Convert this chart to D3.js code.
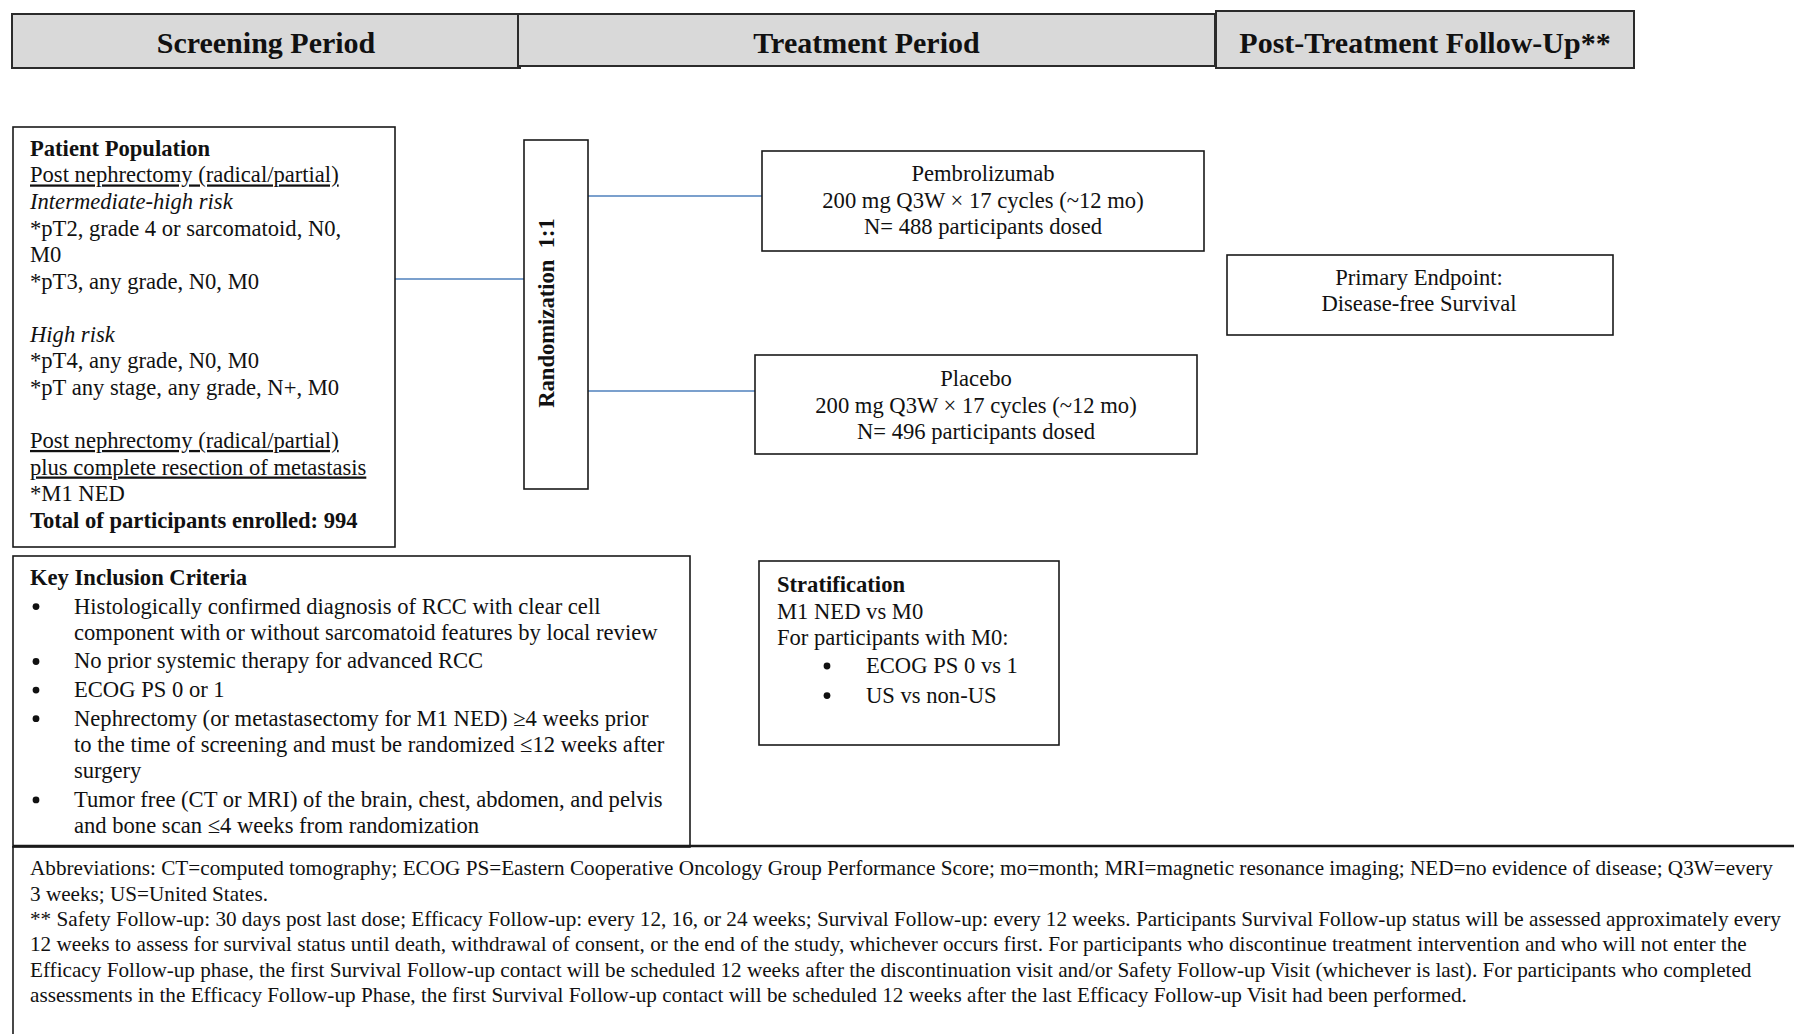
<!DOCTYPE html>
<html>
<head>
<meta charset="utf-8">
<script src="https://cdn.jsdelivr.net/npm/d3@7"></script>
<style>
  body { margin: 0; background: #fff; }
  text { font-family: "Liberation Serif", "Times New Roman", serif; fill: #111; }
</style>
</head>
<body>
<div id="main"></div>
<script>
// ---- content ----
var periods = ['Screening Period', 'Treatment Period', 'Post-Treatment Follow-Up**'];

var population_lines = [
  { t: 'Patient Population', s: 'b' },
  { t: 'Post nephrectomy (radical/partial)', s: 'u' },
  { t: 'Intermediate-high risk', s: 'i' },
  { t: '*pT2, grade 4 or sarcomatoid, N0,' },
  { t: 'M0' },
  { t: '*pT3, any grade, N0, M0' },
  { t: '' },
  { t: 'High risk', s: 'i' },
  { t: '*pT4, any grade, N0, M0' },
  { t: '*pT any stage, any grade, N+, M0' },
  { t: '' },
  { t: 'Post nephrectomy (radical/partial)', s: 'u' },
  { t: 'plus complete resection of metastasis', s: 'u' },
  { t: '*M1 NED' },
  { t: 'Total of participants enrolled: 994', s: 'b' }
];

var randomization_label = 'Randomization  1:1';

var arms = [
  ['Pembrolizumab', '200 mg Q3W \u00d7 17 cycles (~12 mo)', 'N= 488 participants dosed'],
  ['Placebo', '200 mg Q3W \u00d7 17 cycles (~12 mo)', 'N= 496 participants dosed']
];

var endpoint_lines = ['Primary Endpoint:', 'Disease-free Survival'];

var inclusion_title = 'Key Inclusion Criteria';
var inclusion_bullets = [
  ['Histologically confirmed diagnosis of RCC with clear cell', 'component with or without sarcomatoid features by local review'],
  ['No prior systemic therapy for advanced RCC'],
  ['ECOG PS 0 or 1'],
  ['Nephrectomy (or metastasectomy for M1 NED) \u22654 weeks prior', 'to the time of screening and must be randomized \u226412 weeks after', 'surgery'],
  ['Tumor free (CT or MRI) of the brain, chest, abdomen, and pelvis', 'and bone scan \u22644 weeks from randomization']
];

var strat_title = 'Stratification';
var strat_lines = ['M1 NED vs M0', 'For participants with M0:'];
var strat_bullets = ['ECOG PS 0 vs 1', 'US vs non-US'];

var footnote_lines = [
  'Abbreviations: CT=computed tomography; ECOG PS=Eastern Cooperative Oncology Group Performance Score; mo=month; MRI=magnetic resonance imaging; NED=no evidence of disease; Q3W=every',
  '3 weeks; US=United States.',
  '** Safety Follow-up: 30 days post last dose; Efficacy Follow-up: every 12, 16, or 24 weeks; Survival Follow-up: every 12 weeks. Participants Survival Follow-up status will be assessed approximately every',
  '12 weeks to assess for survival status until death, withdrawal of consent, or the end of the study, whichever occurs first. For participants who discontinue treatment intervention and who will not enter the',
  'Efficacy Follow-up phase, the first Survival Follow-up contact will be scheduled 12 weeks after the discontinuation visit and/or Safety Follow-up Visit (whichever is last). For participants who completed',
  'assessments in the Efficacy Follow-up Phase, the first Survival Follow-up contact will be scheduled 12 weeks after the last Efficacy Follow-up Visit had been performed.'
];

// ---- layout ----
var width = 1794, height = 1034;
var header_boxes = [
  { x0: 12, x1: 520, y0: 14, y1: 68 },
  { x0: 518, x1: 1215, y0: 14, y1: 66 },
  { x0: 1216, x1: 1634, y0: 11, y1: 68 }
];
var body_size = 22.6;
var blue = '#4f81bd';

var svg = d3.select('#main').append('svg')
  .attr('width', width)
  .attr('height', height);

function box(g, x0, y0, x1, y1, sw) {
  g.append('rect')
    .attr('x', x0).attr('y', y0)
    .attr('width', x1 - x0).attr('height', y1 - y0)
    .attr('fill', 'none')
    .attr('stroke', '#1a1a1a')
    .attr('stroke-width', sw || 1.6);
}

// header bars
var heads = svg.append('g');
heads.selectAll('rect')
  .data(periods)
  .enter()
  .append('rect')
  .attr('x', function (d, i) { return header_boxes[i].x0; })
  .attr('y', function (d, i) { return header_boxes[i].y0; })
  .attr('width', function (d, i) { return header_boxes[i].x1 - header_boxes[i].x0; })
  .attr('height', function (d, i) { return header_boxes[i].y1 - header_boxes[i].y0; })
  .attr('fill', '#d9d9d9')
  .attr('stroke', '#2b2b2b')
  .attr('stroke-width', 2);
heads.selectAll('text')
  .data(periods)
  .enter()
  .append('text')
  .attr('x', function (d, i) { return (header_boxes[i].x0 + header_boxes[i].x1) / 2; })
  .attr('y', 42)
  .attr('dy', '0.35em')
  .attr('text-anchor', 'middle')
  .attr('font-size', 30)
  .attr('font-weight', 'bold')
  .text(function (d) { return d; });

// connectors
var links = [
  { x1: 395, y1: 279, x2: 524, y2: 279 },
  { x1: 588, y1: 196, x2: 762, y2: 196 },
  { x1: 588, y1: 391, x2: 755, y2: 391 }
];
svg.selectAll('.link')
  .data(links)
  .enter()
  .append('line')
  .attr('class', 'link')
  .attr('x1', function (d) { return d.x1; })
  .attr('y1', function (d) { return d.y1; })
  .attr('x2', function (d) { return d.x2; })
  .attr('y2', function (d) { return d.y2; })
  .attr('stroke', blue)
  .attr('stroke-width', 1.6);

// patient population
var pop = svg.append('g');
box(pop, 13, 127, 395, 547);
pop.selectAll('text')
  .data(population_lines)
  .enter()
  .append('text')
  .attr('x', 30)
  .attr('y', function (d, i) { return 148 + i * 26.55; })
  .attr('dy', '0.35em')
  .attr('font-size', body_size)
  .attr('font-weight', function (d) { return d.s === 'b' ? 'bold' : null; })
  .attr('font-style', function (d) { return d.s === 'i' ? 'italic' : null; })
  .attr('text-decoration', function (d) { return d.s === 'u' ? 'underline' : null; })
  .text(function (d) { return d.t; });

// randomization
var rnd = svg.append('g');
box(rnd, 524, 140, 588, 489);
rnd.append('text')
  .attr('transform', 'translate(546,313) rotate(-90)')
  .attr('dy', '0.35em')
  .attr('text-anchor', 'middle')
  .attr('font-size', 22.6)
  .attr('font-weight', 'bold')
  .style('white-space', 'pre')
  .text(randomization_label);

// treatment arms
var arm_boxes = [
  { x0: 762, x1: 1204, y0: 151, y1: 251, y: 173 },
  { x0: 755, x1: 1197, y0: 355, y1: 454, y: 378 }
];
arms.forEach(function (lines, k) {
  var b = arm_boxes[k];
  var g = svg.append('g');
  box(g, b.x0, b.y0, b.x1, b.y1);
  g.selectAll('text')
    .data(lines)
    .enter()
    .append('text')
    .attr('x', (b.x0 + b.x1) / 2)
    .attr('y', function (d, i) { return b.y + i * 26.7; })
    .attr('dy', '0.35em')
    .attr('text-anchor', 'middle')
    .attr('font-size', body_size)
    .text(function (d) { return d; });
});

// primary endpoint
var ep = svg.append('g');
box(ep, 1227, 255, 1613, 335);
ep.selectAll('text')
  .data(endpoint_lines)
  .enter()
  .append('text')
  .attr('x', 1419)
  .attr('y', function (d, i) { return 277 + i * 26.5; })
  .attr('dy', '0.35em')
  .attr('text-anchor', 'middle')
  .attr('font-size', body_size)
  .text(function (d) { return d; });

// key inclusion criteria
var inc = svg.append('g');
box(inc, 13, 556, 690, 847);
inc.append('text')
  .attr('x', 30).attr('y', 577).attr('dy', '0.35em')
  .attr('font-size', body_size)
  .attr('font-weight', 'bold')
  .text(inclusion_title);
var inc_y = 577;
var inc_rows = [];
inclusion_bullets.forEach(function (b) {
  b.forEach(function (line, j) {
    inc_y += j === 0 ? 28.6 : 26.3;
    inc_rows.push({ t: line, y: inc_y, first: j === 0 });
  });
});
inc.selectAll('.ln')
  .data(inc_rows)
  .enter()
  .append('text')
  .attr('class', 'ln')
  .attr('x', 74)
  .attr('y', function (d) { return d.y; })
  .attr('dy', '0.35em')
  .attr('font-size', body_size)
  .text(function (d) { return d.t; });
inc.selectAll('.dot')
  .data(inc_rows.filter(function (d) { return d.first; }))
  .enter()
  .append('circle')
  .attr('class', 'dot')
  .attr('cx', 36)
  .attr('cy', function (d) { return d.y + 1; })
  .attr('r', 3.4)
  .attr('fill', '#111');

// stratification
var st = svg.append('g');
box(st, 759, 561, 1059, 745);
st.append('text')
  .attr('x', 777).attr('y', 584).attr('dy', '0.35em')
  .attr('font-size', body_size)
  .attr('font-weight', 'bold')
  .text(strat_title);
st.selectAll('.ln')
  .data(strat_lines)
  .enter()
  .append('text')
  .attr('class', 'ln')
  .attr('x', 777)
  .attr('y', function (d, i) { return 611 + i * 26.4; })
  .attr('dy', '0.35em')
  .attr('font-size', body_size)
  .text(function (d) { return d; });
st.selectAll('.bl')
  .data(strat_bullets)
  .enter()
  .append('text')
  .attr('class', 'bl')
  .attr('x', 866)
  .attr('y', function (d, i) { return 665 + i * 29.6; })
  .attr('dy', '0.35em')
  .attr('font-size', body_size)
  .text(function (d) { return d; });
st.selectAll('.dot')
  .data(strat_bullets)
  .enter()
  .append('circle')
  .attr('class', 'dot')
  .attr('cx', 827)
  .attr('cy', function (d, i) { return 666 + i * 29.6; })
  .attr('r', 3.4)
  .attr('fill', '#111');

// footnotes
var fn = svg.append('g');
fn.append('line')
  .attr('x1', 13).attr('y1', 846).attr('x2', width).attr('y2', 846)
  .attr('stroke', '#1a1a1a').attr('stroke-width', 2.4);
fn.append('line')
  .attr('x1', 13).attr('y1', 846).attr('x2', 13).attr('y2', height)
  .attr('stroke', '#1a1a1a').attr('stroke-width', 1.6);
fn.selectAll('text')
  .data(footnote_lines)
  .enter()
  .append('text')
  .attr('x', 30)
  .attr('y', function (d, i) { return 868 + i * 25.3; })
  .attr('dy', '0.35em')
  .attr('font-size', 21.2)
  .text(function (d) { return d; });
</script>
</body>
</html>
